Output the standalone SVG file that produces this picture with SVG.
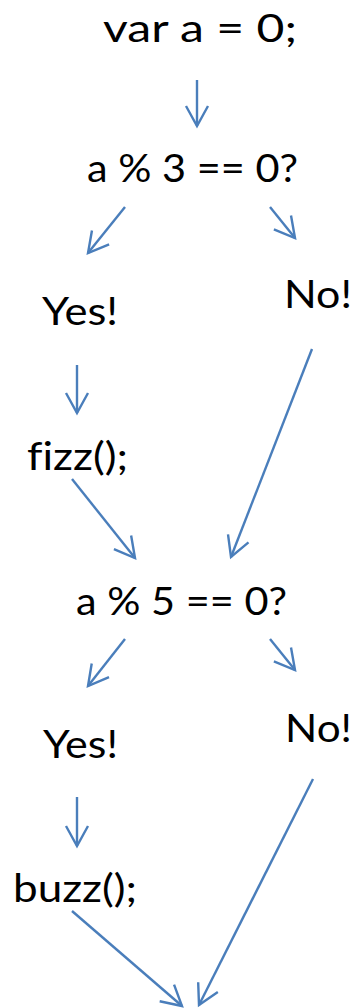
<svg xmlns="http://www.w3.org/2000/svg" width="358" height="1008" viewBox="0 0 358 1008">
<style>
.t{font-family:Lato,"Open Sans","Liberation Sans",sans-serif;font-size:39px;fill:#000;font-variant-ligatures:none;font-feature-settings:"liga" 0}
.c line{stroke:#4a7ebb;stroke-width:2.4;fill:none;marker-end:url(#ah)}
</style>
<defs>
<marker id="ah" markerUnits="userSpaceOnUse" orient="auto" refX="0" refY="0" markerWidth="40" markerHeight="40" viewBox="-30 -20 40 40" overflow="visible">
<path d="M-20,-11 L0,0 L-20,11" fill="none" stroke="#4a7ebb" stroke-width="2.4"/>
</marker>
</defs>
<rect width="358" height="1008" fill="#fff"/>
<g id="n1"><text class="t" x="103" y="42" textLength="194" lengthAdjust="spacingAndGlyphs">var a = 0;</text></g>
<g id="n2"><text class="t" x="87" y="182" textLength="211" lengthAdjust="spacingAndGlyphs">a % 3 == 0?</text></g>
<g id="n3"><text class="t" x="42" y="325" textLength="76" lengthAdjust="spacingAndGlyphs">Yes!</text></g>
<g id="n4"><text class="t" x="284" y="308" textLength="68" lengthAdjust="spacingAndGlyphs">No!</text></g>
<g id="n5"><text class="t" x="27" y="470" textLength="101" lengthAdjust="spacingAndGlyphs">fizz();</text></g>
<g id="n6"><text class="t" x="76" y="615" textLength="211" lengthAdjust="spacingAndGlyphs">a % 5 == 0?</text></g>
<g id="n7"><text class="t" x="43" y="758" textLength="75" lengthAdjust="spacingAndGlyphs">Yes!</text></g>
<g id="n8"><text class="t" x="285" y="742" textLength="67" lengthAdjust="spacingAndGlyphs">No!</text></g>
<g id="n9"><text class="t" x="13" y="902" textLength="124" lengthAdjust="spacingAndGlyphs">buzz();</text></g>
<g id="connectors" class="c">
<line x1="197" y1="80" x2="197" y2="126"/>
<line x1="125" y1="207" x2="88" y2="253"/>
<line x1="270" y1="207" x2="295" y2="238"/>
<line x1="77" y1="365" x2="77" y2="413"/>
<line x1="312" y1="349" x2="231" y2="557"/>
<line x1="72" y1="479" x2="135" y2="558"/>
<line x1="125" y1="639" x2="88" y2="686"/>
<line x1="270" y1="639" x2="295" y2="670"/>
<line x1="77" y1="797" x2="77" y2="846"/>
<line x1="313" y1="779" x2="199" y2="1005"/>
<line x1="72" y1="911" x2="182" y2="1006"/>
</g>
</svg>
